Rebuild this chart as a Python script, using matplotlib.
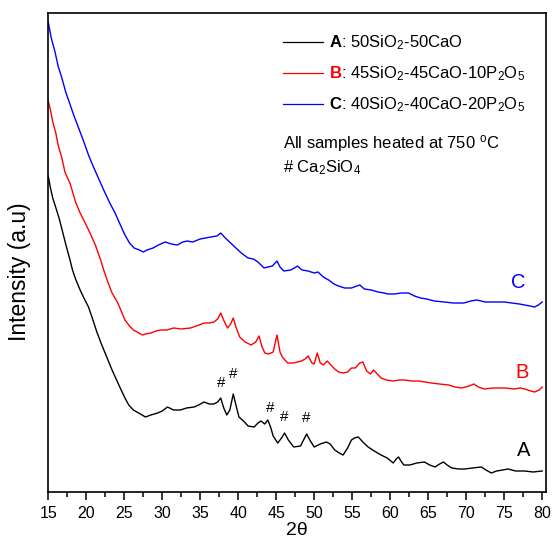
""" XRD patterns of the three glass compositions heated at 750 C """

import numpy as np
from matplotlib import pyplot as plt
from matplotlib.ticker import MultipleLocator

plt.rcParams['font.family'] = ['Liberation Sans', 'DejaVu Sans']
plt.rcParams['mathtext.fontset'] = 'custom'
plt.rcParams['mathtext.rm'] = 'Liberation Sans'
plt.rcParams['mathtext.default'] = 'regular'

# sample A : 50SiO2-50CaO
tt_a = [15.0, 15.3, 15.6, 16.1, 16.5, 17.0, 17.4, 17.8, 18.2, 18.6, 19.2, 19.7,
        20.3, 20.8, 21.4, 22.0, 22.7, 23.4, 24.0, 24.6, 25.1, 25.6, 26.2, 26.9,
        27.8, 28.5, 29.4, 30.0, 30.7, 31.5, 32.4, 33.2, 34.2, 34.8, 35.5, 36.2,
        36.8, 37.3, 37.7, 38.1, 38.5, 38.9, 39.35, 39.7, 40.1, 40.7, 41.3, 42.1,
        42.6, 43.0, 43.5, 43.9, 44.3, 44.6, 45.2, 45.7, 46.1, 46.6, 47.3, 48.2,
        48.6, 49.0, 49.5, 50.0, 50.8, 51.6, 52.1, 52.7, 53.3, 53.8, 54.4, 54.9,
        55.3, 55.8, 56.4, 57.1, 57.9, 58.8, 59.6, 60.4, 60.8, 61.1, 61.5, 61.8,
        62.6, 63.5, 64.5, 65.2, 65.9, 66.5, 67.0, 67.5, 68.1, 69.0, 69.8, 70.8,
        72.0, 72.6, 73.3, 74.0, 74.8, 75.5, 76.5, 77.7, 78.8, 80.0]
int_a = [316, 304, 294, 282, 272, 257, 245, 234, 222, 213, 202, 194,
         185, 174, 160, 148, 135, 122, 112, 102, 94, 87, 82, 79,
         75, 77, 79, 81, 85, 82, 82, 84, 85, 87, 90, 88,
         88, 90, 94, 84, 77, 82, 98, 87, 75, 71, 66, 65,
         69, 71, 68, 72, 64, 56, 49, 54, 59, 52, 45, 46,
         52, 58, 51, 45, 48, 50, 48, 42, 39, 37, 44, 52,
         54, 55, 50, 45, 41, 37, 34, 29, 33, 35, 30, 27,
         27, 29, 30, 27, 25, 28, 30, 27, 24, 23, 23, 24,
         25, 22, 19, 21, 22, 23, 21, 21, 20, 21]

# sample B : 45SiO2-45CaO-10P2O5
tt_b = [15.0, 15.3, 15.6, 16.0, 16.3, 16.8, 17.2, 17.9, 18.6, 19.2, 19.8, 20.5,
        21.2, 21.9, 22.3, 22.8, 23.4, 24.1, 24.6, 25.1, 25.7, 26.2, 26.7, 27.4,
        27.8, 28.5, 29.2, 29.8, 30.6, 31.5, 32.5, 33.7, 34.5, 35.5, 36.2, 36.8,
        37.3, 37.7, 38.2, 38.6, 39.0, 39.35, 39.7, 40.2, 40.9, 41.7, 42.3, 42.75,
        43.1, 43.5, 44.0, 44.6, 45.1, 45.5, 45.8, 46.5, 47.3, 48.3, 48.8, 49.2,
        49.7, 50.0, 50.4, 50.8, 51.2, 51.7, 52.2, 52.7, 53.2, 53.8, 54.4, 54.9,
        55.4, 56.0, 56.4, 56.9, 57.4, 57.8, 58.3, 58.8, 59.5, 60.4, 61.2, 61.9,
        62.8, 63.7, 64.6, 65.4, 66.5, 67.7, 68.5, 69.4, 70.4, 71.0, 71.6, 72.4,
        73.5, 74.3, 75.1, 76.3, 77.1, 77.7, 78.5, 79.0, 79.6, 80.0]
int_b = [391, 382, 370, 359, 347, 334, 320, 308, 290, 279, 270, 259,
         247, 232, 222, 211, 199, 190, 181, 172, 166, 162, 160, 157,
         158, 159, 161, 162, 162, 164, 163, 164, 166, 169, 169, 170,
         173, 179, 170, 164, 168, 174, 165, 155, 150, 147, 150, 156,
         146, 139, 138, 140, 157, 140, 135, 129, 129, 131, 133, 136,
         129, 128, 139, 129, 127, 131, 127, 123, 120, 119, 120, 124,
         124, 129, 130, 121, 118, 122, 118, 114, 112, 111, 112, 112,
         111, 111, 110, 109, 108, 107, 105, 104, 106, 108, 105, 103,
         104, 104, 104, 103, 104, 103, 101, 100, 102, 105]

# sample C : 40SiO2-40CaO-20P2O5
tt_c = [15.0, 15.4, 15.9, 16.3, 16.8, 17.3, 17.9, 18.4, 19.0, 19.6, 20.3, 20.9,
        21.6, 22.3, 23.1, 23.8, 24.5, 25.1, 25.7, 26.3, 27.0, 27.5, 28.0, 28.8,
        29.5, 30.4, 31.2, 32.0, 32.7, 33.3, 34.0, 35.0, 35.7, 36.4, 37.2, 37.7,
        38.3, 39.0, 39.7, 40.4, 41.3, 42.0, 42.6, 43.4, 43.9, 44.5, 45.1, 45.5,
        46.0, 46.9, 47.4, 47.8, 48.4, 49.2, 50.0, 50.5, 51.2, 51.9, 52.6, 53.2,
        54.0, 54.9, 55.6, 56.0, 56.6, 57.5, 58.4, 59.2, 59.7, 60.5, 61.5, 62.4,
        63.2, 64.0, 64.8, 65.8, 67.1, 68.3, 69.7, 70.6, 71.4, 72.5, 73.5, 74.4,
        75.0, 76.0, 77.0, 77.7, 78.4, 79.0, 79.5, 80.0]
int_c = [470, 454, 440, 426, 414, 400, 387, 376, 364, 352, 337, 326,
         314, 302, 289, 279, 267, 257, 249, 244, 242, 240, 242, 244,
         247, 250, 248, 247, 250, 251, 250, 253, 254, 255, 256, 259,
         254, 249, 244, 239, 234, 233, 230, 224, 225, 226, 231, 225,
         221, 222, 224, 226, 222, 221, 219, 220, 215, 212, 208, 206,
         204, 204, 206, 207, 203, 202, 200, 199, 198, 198, 199, 199,
         196, 194, 193, 191, 190, 189, 189, 191, 192, 190, 190, 190,
         190, 189, 188, 187, 186, 185, 187, 190]

# Ca2SiO4 reflections marked with '#' (2theta, height of mark)
hash_tt = [37.7, 39.3, 44.2, 46.1, 49.0]
hash_int = [109, 118, 84, 75, 74]

labels = ['A', 'B', 'C']
compositions = [': 50SiO$_2$-50CaO',
                ': 45SiO$_2$-45CaO-10P$_2$O$_5$',
                ': 40SiO$_2$-40CaO-20P$_2$O$_5$']
colors = ['black', 'red', 'blue']
legend_letter_colors = ['black', 'red', 'black']
label_tt = [77.6, 77.3, 76.8]
label_int = [42, 119, 210]

fig = plt.figure(figsize=(5.52, 5.40), dpi=100)
ax = fig.add_axes([48.2 / 552, 48 / 540, 497.8 / 552, 479 / 540])

for tt, inten, col in zip([tt_a, tt_b, tt_c], [int_a, int_b, int_c], colors):
    ax.plot(tt, inten, color=col, lw=1.0)

for xx, yy in zip(hash_tt, hash_int):
    ax.text(xx, yy, '#', fontsize=11, ha='center', va='center')

for lab, col, xx, yy in zip(labels, colors, label_tt, label_int):
    ax.text(xx, yy, lab, color=col, fontsize=14.5, ha='center', va='center')

# hand made legend
line_y = [450, 419, 388]
for lab, comp, col, lcol, yy in zip(labels, compositions, colors,
                                    legend_letter_colors, line_y):
    ax.plot([45.9, 51.2], [yy, yy], color=col, lw=0.9)
    t1 = ax.text(52.0, yy - 5, lab, color=lcol, fontsize=12,
                 fontweight='bold', va='baseline')
    ax.annotate(comp, xy=(1, yy - 5), xycoords=(t1, 'data'),
                fontsize=12, va='baseline')

ax.text(45.9, 344, 'All samples heated at 750 $^{o}$C', fontsize=12,
        va='baseline')
ax.text(45.9, 320, '# Ca$_2$SiO$_4$', fontsize=12, va='baseline')

ax.set_xlim(15, 80.5)
ax.set_ylim(0, 479)
ax.xaxis.set_major_locator(MultipleLocator(5))
ax.xaxis.set_minor_locator(MultipleLocator(2.5))
ax.tick_params(axis='x', which='major', direction='out', length=6, width=1.1,
               labelsize=11.5, pad=4)
ax.tick_params(axis='x', which='minor', direction='out', length=3.5, width=1.1)
ax.set_yticks([])
for sp in ax.spines.values():
    sp.set_linewidth(1.2)

ax.set_xlabel('2θ', fontsize=14, labelpad=1)
ax.set_ylabel('Intensity (a.u)', fontsize=16.5)
ax.yaxis.set_label_coords(-0.034, 0.46)

fig.savefig('out.png', dpi=100)
